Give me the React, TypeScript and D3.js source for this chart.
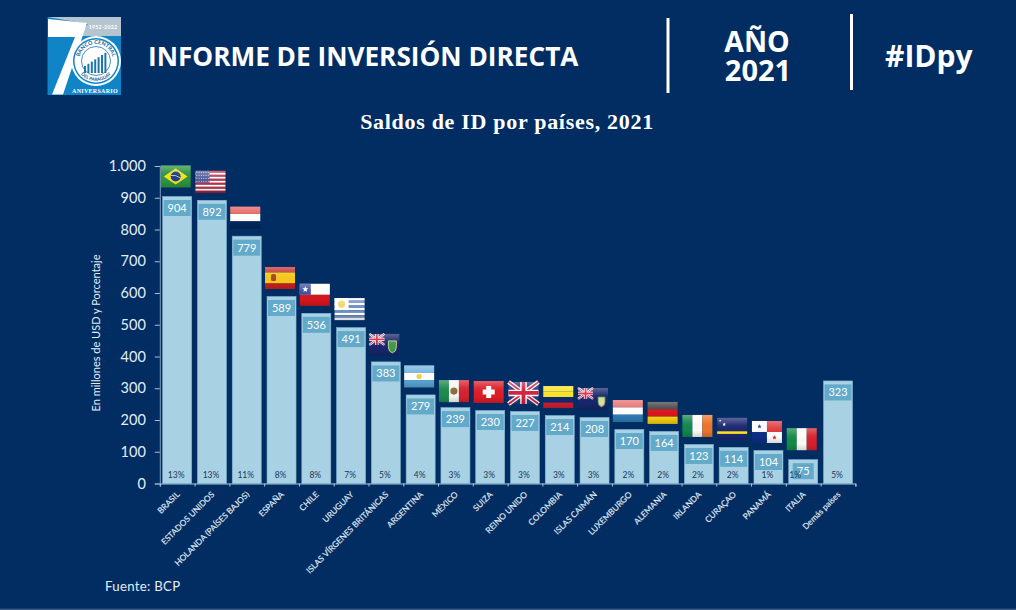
import React, { useEffect, useRef } from 'react';
import * as d3 from 'd3';

const countries = [
    'BRASIL', 'ESTADOS UNIDOS', 'HOLANDA (PAÍSES BAJOS)', 'ESPAÑA', 'CHILE', 'URUGUAY',
    'ISLAS VÍRGENES BRITÁNICAS', 'ARGENTINA', 'MÉXICO', 'SUIZA', 'REINO UNIDO', 'COLOMBIA',
    'ISLAS CAIMÁN', 'LUXEMBURGO', 'ALEMANIA', 'IRLANDA', 'CURAÇAO', 'PANAMÁ', 'ITALIA', 'Demás países',
];
const saldos = [904, 892, 779, 589, 536, 491, 383, 279, 239, 230, 227, 214, 208, 170, 164, 123, 114, 104, 75, 323];
const shares = ['13%', '13%', '11%', '8%', '8%', '7%', '5%', '4%', '3%', '3%', '3%', '3%', '3%', '2%', '2%', '2%', '2%', '1%', '1%', '5%'];
const flagCodes = ['br', 'us', 'nl', 'es', 'cl', 'uy', 'vg', 'ar', 'mx', 'ch', 'gb', 'co', 'ky', 'lu', 'de', 'ie', 'cw', 'pa', 'it', ''];
const yTicks = [0, 100, 200, 300, 400, 500, 600, 700, 800, 900, 1000];

const BG = '#012d63';
const BAR = '#a9d1e4';
const BOX = '#62a9ca';
const TEXT = '#e4edf4';
const W = 1016;
const H = 610;
const FONT = 'Lato, sans-serif';
const HEAD = '"Open Sans", sans-serif';

const x = d3.scaleBand<string>().domain(countries).range([159.8, 855.4]).paddingInner(0.166).paddingOuter(0.083);
const y = d3.scaleLinear().domain([0, 1000]).range([483.5, 166]);
const slots = d3.scaleLinear().domain([0, countries.length]).range([159.8, 855.4]);
const esLocale = d3.formatLocale({ decimal: ',', thousands: '.', grouping: [3], currency: ['', ''] });

const Stripes = ({ colors }: { colors: string[] }) => (
    <>
        {colors.map((c, i) => (
            <rect key={i} y={(22 / colors.length) * i} width={30} height={22 / colors.length} fill={c} />
        ))}
    </>
);

const Bars = ({ colors }: { colors: string[] }) => (
    <>
        {colors.map((c, i) => (
            <rect key={i} x={(30 / colors.length) * i} width={30 / colors.length} height={22} fill={c} />
        ))}
    </>
);

const Star = ({ cx, cy, r, fill }: { cx: number; cy: number; r: number; fill: string }) => {
    const star = d3.lineRadial().curve(d3.curveLinearClosed)(
        d3.range(10).map((i) => [(i * Math.PI) / 5, i % 2 ? r * 0.42 : r] as [number, number])
    );
    return <path d={star ?? ''} transform={`translate(${cx},${cy})`} fill={fill} />;
};

const Union = ({ w, h }: { w: number; h: number }) => (
    <g>
        <rect width={w} height={h} fill="#27387f" />
        <path d={`M0,0L${w},${h}M${w},0L0,${h}`} stroke="#fff" strokeWidth={h * 0.2} />
        <path d={`M0,0L${w},${h}M${w},0L0,${h}`} stroke="#d4213d" strokeWidth={h * 0.08} />
        <path d={`M${w / 2},0V${h}M0,${h / 2}H${w}`} stroke="#fff" strokeWidth={h * 0.3} />
        <path d={`M${w / 2},0V${h}M0,${h / 2}H${w}`} stroke="#d4213d" strokeWidth={h * 0.17} />
    </g>
);

const flagArt: Record<string, React.ReactNode> = {
    br: (
        <>
            <rect width={30} height={22} fill="#2b9441" />
            <path d="M15,3L27,11L15,19L3,11Z" fill="#f4e320" />
            <circle cx={15} cy={11} r={5} fill="#1f3f87" />
            <path d="M10.4,10Q15,9 19.6,12.5" stroke="#fff" strokeWidth={0.7} fill="none" />
        </>
    ),
    us: (
        <>
            <Stripes colors={['#c8283c', '#fff', '#c8283c', '#fff', '#c8283c', '#fff', '#c8283c', '#fff', '#c8283c', '#fff', '#b81f34']} />
            <rect width={14} height={12} fill="#4a5596" />
            {d3.range(4).map((r) =>
                d3.range(6).map((c) => <circle key={`${r}-${c}`} cx={1.4 + c * 2.3} cy={1.5 + r * 3} r={0.55} fill="#dfe3f2" />)
            )}
        </>
    ),
    nl: <Stripes colors={['#e4605f', '#ffffff', '#02265c']} />,
    es: (
        <>
            <Stripes colors={['#c5312b', '#f7c81a', '#f7c81a', '#cc1f1f']} />
            <rect x={6} y={7} width={5} height={7} rx={1.5} fill="#a8452a" />
        </>
    ),
    cl: (
        <>
            <rect width={30} height={11} fill="#fff" />
            <rect y={11} width={30} height={11} fill="#d8161f" />
            <rect width={11} height={11} fill="#394f9c" />
            <Star cx={5.5} cy={5.5} r={3.2} fill="#fff" />
        </>
    ),
    uy: (
        <>
            <Stripes colors={['#fff', '#6c8fc4', '#fff', '#6c8fc4', '#fff', '#6c8fc4', '#fff', '#6c8fc4', '#fff']} />
            <rect width={14} height={12} fill="#fff" />
            <circle cx={7} cy={6} r={3.6} fill="#f2d660" />
        </>
    ),
    vg: (
        <>
            <rect width={30} height={22} fill="#16266b" />
            <Union w={15} h={11} />
            <path d="M19,7H27V13Q27,18 23,19Q19,18 19,13Z" fill="#3f9a4a" stroke="#e9e3a0" strokeWidth={0.8} />
        </>
    ),
    ar: (
        <>
            <Stripes colors={['#72b4dd', '#fff', '#5aa3d2']} />
            <circle cx={15} cy={11} r={2.6} fill="#f2d24a" />
        </>
    ),
    mx: (
        <>
            <Bars colors={['#1d8a4e', '#f7f7f2', '#d5232f']} />
            <circle cx={15} cy={11} r={3.6} fill="#8f6b3a" />
        </>
    ),
    ch: (
        <>
            <rect width={30} height={22} fill="#dc1d27" />
            <path d="M12.5,5H17.5V8.5H21V13.5H17.5V17H12.5V13.5H9V8.5H12.5Z" fill="#fff" />
        </>
    ),
    gb: <Union w={30} h={22} />,
    co: <Stripes colors={['#f9e21f', '#f9e21f', '#0c2a72', '#cf1f33']} />,
    ky: (
        <>
            <rect width={30} height={22} fill="#16266b" />
            <Union w={15} h={11} />
            <path d="M20,9H27V14Q27,18 23.5,19Q20,18 20,14Z" fill="#e2d9a2" stroke="#3f9a4a" strokeWidth={0.8} />
        </>
    ),
    lu: <Stripes colors={['#ea6d6d', '#ffffff', '#2c7db5']} />,
    de: <Stripes colors={['#3f3f3f', '#d8131b', '#f7cf12']} />,
    ie: <Bars colors={['#13874f', '#fbfbf6', '#ec7428']} />,
    cw: (
        <>
            <rect width={30} height={22} fill="#1a2670" />
            <rect y={13.5} width={30} height={2.6} fill="#f8e024" />
            <Star cx={3} cy={3} r={1.3} fill="#fff" />
            <Star cx={7} cy={6.5} r={2} fill="#fff" />
        </>
    ),
    pa: (
        <>
            <rect width={15} height={11} fill="#fff" />
            <rect x={15} width={15} height={11} fill="#e0383a" />
            <rect y={11} width={15} height={11} fill="#0e2f86" />
            <rect x={15} y={11} width={15} height={11} fill="#fff" />
            <Star cx={7.5} cy={5.5} r={2.4} fill="#0e2f86" />
            <Star cx={22.5} cy={16.5} r={2.4} fill="#d4202a" />
        </>
    ),
    it: <Bars colors={['#138a46', '#fbfbf6', '#d8202c']} />,
};

// algunas banderas no quedan a la misma distancia de su barra
const flagNudge: Record<string, number> = { br: -1.5, it: -2, mx: 2, vg: 1.5 };

const Logo = () => (
    <g>
        <rect x={47.5} y={17} width={73.5} height={78} fill="#0f85c8" />
        <path d="M47.5,17H121V36H76L88,24L47.5,17Z" fill="#b5c4d1" />
        <path d="M48,19L87,23L63,94.5H52L75,37H48Z" fill="#fff" />
        <circle cx={96} cy={61} r={25} fill="#fff" />
        <circle cx={96} cy={61} r={23} fill="#0f85c8" />
        <circle cx={96} cy={61} r={21.5} fill="#fff" />
        <circle cx={96} cy={61} r={14.5} fill="#fff" stroke="#1673a9" strokeWidth={0.8} />
        {d3.range(7).map((i) => (
            <rect key={i} x={84 + i * 3.4} y={66 - i * 2.2} width={2} height={7 + i * 2.2} fill="#1b78ad" />
        ))}
        <defs>
            <path id="sealTop" d="M79,61A17,17 0 0 1 113,61" />
            <path id="sealBottom" d="M76,61A20,20 0 0 0 116,61" />
        </defs>
        <text fontFamily={FONT} fontSize={5.4} fontWeight={700} fill="#1a5f8f" textAnchor="middle">
            <textPath href="#sealTop" startOffset="50%">BANCO CENTRAL</textPath>
        </text>
        <text fontFamily={FONT} fontSize={4.6} fontWeight={700} fill="#1a5f8f" textAnchor="middle">
            <textPath href="#sealBottom" startOffset="50%">DEL PARAGUAY</textPath>
        </text>
        <text x={103} y={29} fontFamily={FONT} fontSize={5.2} fontWeight={700} fill="#fff" textAnchor="middle" letterSpacing={0.3}>1952-2022</text>
        <text x={95} y={93} fontFamily="'Liberation Serif', serif" fontSize={6} fontWeight={700} fill="#fff" textAnchor="middle" letterSpacing={0.3}>ANIVERSARIO</text>
    </g>
);

const App: React.FC = () => {
    const yAxisRef = useRef<SVGGElement>(null);
    const xAxisRef = useRef<SVGGElement>(null);

    useEffect(() => {
        if (!yAxisRef.current || !xAxisRef.current) return;

        const yAxis = d3
            .axisLeft(y)
            .tickValues(yTicks)
            .tickSize(5)
            .tickPadding(9)
            .tickFormat((d) => esLocale.format(',')(d as number));
        const yGroup = d3.select(yAxisRef.current).call(yAxis);
        yGroup.selectAll('text').attr('fill', TEXT).attr('font-size', 14.5).attr('font-family', FONT);
        yGroup.selectAll('line').attr('stroke', '#a9bfd0');
        yGroup.select('.domain').attr('stroke', '#7f9db8');

        // marcas entre barras, como en el original
        const xAxis = d3.axisBottom(slots).ticks(countries.length).tickSize(3).tickFormat(() => '');
        const xGroup = d3.select(xAxisRef.current).call(xAxis);
        xGroup.selectAll('line').attr('stroke', '#a9c6da');
        xGroup.select('.domain').attr('stroke', '#a9c6da');
    }, []);

    return (
        <svg width={W} height={H} viewBox={`0 0 ${W} ${H}`} style={{ position: 'absolute', left: 0, top: 0, display: 'block' }}>
            <defs>
                <linearGradient id="gloss" x1="0" y1="0" x2="0" y2="1">
                    <stop offset="0" stopColor="#fff" stopOpacity={0.3} />
                    <stop offset="0.35" stopColor="#fff" stopOpacity={0.05} />
                    <stop offset="0.7" stopColor="#000" stopOpacity={0} />
                    <stop offset="1" stopColor="#000" stopOpacity={0.15} />
                </linearGradient>
            </defs>
            <rect width={W} height={H} fill={BG} />
            <rect y={608.5} width={W} height={1.5} fill="#34557f" />

            <Logo />
            <text x={148} y={66} fontFamily={HEAD} fontSize={26.2} fontWeight={700} fill="#fff">INFORME DE INVERSIÓN DIRECTA</text>
            <line x1={668} x2={668} y1={18} y2={93} stroke="#fff" strokeWidth={3} />
            <text x={757} y={52} fontFamily={HEAD} fontSize={28.5} fontWeight={700} fill="#fff" textAnchor="middle">AÑO</text>
            <text x={758} y={81} fontFamily={HEAD} fontSize={29} fontWeight={700} fill="#fff" textAnchor="middle">2021</text>
            <line x1={851.5} x2={851.5} y1={14} y2={90} stroke="#fff" strokeWidth={3} />
            <text x={885} y={67} fontFamily={HEAD} fontSize={30} fontWeight={700} fill="#fff">#IDpy</text>

            <text x={507} y={129} fontFamily="'Liberation Serif', serif" fontSize={22} fontWeight={700} fill="#fff" textAnchor="middle" letterSpacing={0.7}>
                Saldos de ID por países, 2021
            </text>

            <text
                transform="translate(100,333) rotate(-90)"
                fontFamily={FONT}
                fontSize={11}
                fill={TEXT}
                textAnchor="middle"
            >
                En millones de USD y Porcentaje
            </text>

            {countries.map((c, i) => {
                const bx = x(c) as number;
                const bw = x.bandwidth();
                const cx = bx + bw / 2;
                const top = y(saldos[i]);
                const narrow = c === 'ITALIA';
                const boxW = narrow ? 21 : 27;
                const code = flagCodes[i];
                return (
                    <g key={c}>
                        <rect x={bx} y={top} width={bw} height={y(0) - top} fill={BAR} stroke="#7fb3d0" strokeWidth={0.6} />
                        <rect x={cx - boxW / 2} y={top + 3.5} width={boxW} height={16} fill={BOX} />
                        <text x={cx} y={top + 15.5} fontFamily={FONT} fontSize={11} fill="#fff" textAnchor="middle">{saldos[i]}</text>
                        <text x={cx - (narrow ? 8 : 1)} y={478} fontFamily={FONT} fontSize={8.5} fill="#17385f" textAnchor="middle">{shares[i]}</text>
                        {code && (
                            <g transform={`translate(${bx - 2},${top - 29.5 + (flagNudge[code] ?? 0)})`}>
                                {flagArt[code]}
                                <rect width={30} height={22} fill="url(#gloss)" />
                            </g>
                        )}
                        <text
                            transform={`translate(${cx + 3},495) rotate(-45)`}
                            fontFamily={FONT}
                            fontSize={8.3}
                            fill={TEXT}
                            stroke={TEXT}
                            strokeWidth={0.15}
                            textAnchor="end"
                        >
                            {c}
                        </text>
                    </g>
                );
            })}

            <g ref={yAxisRef} transform="translate(159.8,0)" />
            <g ref={xAxisRef} transform={`translate(0,${y(0)})`} />

            <text x={105} y={591} fontFamily={FONT} fontSize={13.2} fill={TEXT} letterSpacing={0.3}>Fuente: BCP</text>
        </svg>
    );
};

export default App;
